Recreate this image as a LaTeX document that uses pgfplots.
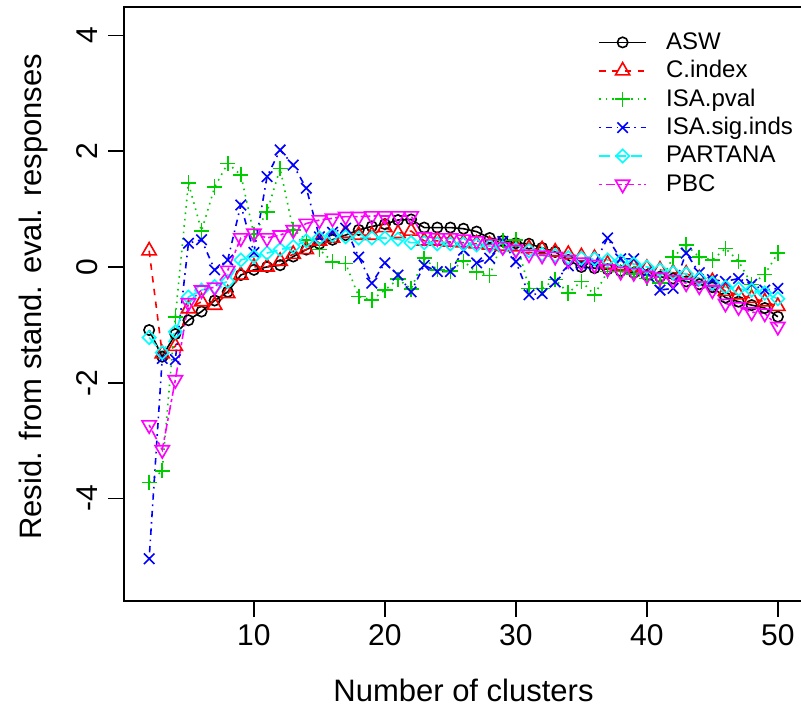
\documentclass[border=0pt]{standalone}
\usepackage{fontspec}
\setmainfont{Liberation Sans}
\usepackage{pgfplots}
\usepackage{pgfplotstable}
\pgfplotsset{compat=1.18}
\definecolor{rgreen}{HTML}{00CD00}
\definecolor{rred}{HTML}{FF0000}
\definecolor{rblue}{HTML}{0000FF}
\definecolor{rcyan}{HTML}{00FFFF}
\definecolor{rmagenta}{HTML}{FF00FF}
\pgfplotstableread{
x ASW Cidx ISApv ISAsig PART PBC
2 -1.09 0.28 -3.72 -5.04 -1.22 -2.73
3 -1.55 -1.50 -3.52 -1.58 -1.48 -3.16
4 -1.16 -1.37 -0.86 -1.60 -1.12 -1.95
5 -0.92 -0.72 1.45 0.41 -0.52 -0.62
6 -0.77 -0.60 0.62 0.47 -0.40 -0.40
7 -0.58 -0.66 1.38 -0.05 -0.34 -0.35
8 -0.43 -0.46 1.79 0.12 -0.25 -0.06
9 -0.14 -0.14 1.59 1.07 0.12 0.50
10 -0.05 0.00 0.56 0.25 0.18 0.58
11 0.00 0.00 0.95 1.56 0.24 0.50
12 0.03 0.10 1.70 2.02 0.30 0.55
13 0.18 0.22 0.64 1.76 0.35 0.64
14 0.30 0.30 0.47 1.36 0.45 0.75
15 0.40 0.45 0.30 0.52 0.50 0.81
16 0.47 0.50 0.09 0.60 0.55 0.84
17 0.55 0.58 0.06 0.67 0.52 0.87
18 0.64 0.55 -0.51 0.17 0.50 0.87
19 0.70 0.55 -0.57 -0.28 0.50 0.88
20 0.74 0.68 -0.40 0.07 0.50 0.88
21 0.81 0.58 -0.21 -0.14 0.48 0.88
22 0.82 0.62 -0.38 -0.43 0.42 0.88
23 0.68 0.45 0.15 0.03 0.42 0.52
24 0.68 0.45 -0.05 -0.08 0.40 0.50
25 0.68 0.43 -0.07 -0.08 0.40 0.50
26 0.66 0.42 0.10 0.29 0.40 0.48
27 0.61 0.40 -0.09 0.07 0.38 0.45
28 0.50 0.38 -0.15 0.15 0.36 0.40
29 0.45 0.36 0.46 0.44 0.33 0.35
30 0.41 0.35 0.47 0.09 0.30 0.30
31 0.40 0.32 -0.37 -0.48 0.28 0.22
32 0.33 0.30 -0.37 -0.46 0.22 0.20
33 0.26 0.26 -0.22 -0.26 0.20 0.18
34 0.12 0.22 -0.45 0.02 0.16 0.12
35 0.00 0.18 -0.25 0.05 0.15 0.08
36 -0.02 0.15 -0.48 0.05 0.14 0.04
37 -0.04 0.05 -0.08 0.50 0.12 -0.03
38 -0.07 0.02 -0.08 0.14 0.10 -0.08
39 -0.10 0.00 -0.12 0.14 0.05 -0.10
40 -0.14 -0.02 -0.20 -0.10 0.00 -0.15
41 -0.17 -0.05 -0.28 -0.40 -0.05 -0.18
42 -0.20 -0.10 0.17 -0.37 -0.10 -0.22
43 -0.25 -0.12 0.38 0.24 -0.12 -0.28
44 -0.30 -0.20 0.17 -0.10 -0.20 -0.33
45 -0.35 -0.25 0.12 -0.22 -0.28 -0.40
46 -0.53 -0.42 0.32 -0.25 -0.35 -0.63
47 -0.60 -0.48 0.10 -0.20 -0.38 -0.69
48 -0.66 -0.54 -0.30 -0.30 -0.40 -0.78
49 -0.71 -0.60 -0.13 -0.40 -0.45 -0.80
50 -0.86 -0.68 0.24 -0.37 -0.55 -1.03
}\data
\begin{document}
\begin{tikzpicture}
\begin{axis}[
  name=ax,
  scale only axis,
  width=339.5pt, height=297pt,
  xmin=0.08, xmax=51.92, ymin=-5.77, ymax=4.49,
  axis line style={line width=0.9pt},
  tick pos=left,
  tick align=outside,
  major tick length=8pt,
  tick style={line width=0.8pt, black},
  xtick={10,20,30,40,50},
  xticklabels={10,20,30,40,50},
  ytick={-4,-2,0,2,4},
  yticklabels={-4,-2,0,2,4},
  tick label style={font=\fontsize{15}{18}\selectfont},
  yticklabel style={rotate=90, anchor=south, yshift=1.5pt},
  xlabel={Number of clusters},
  ylabel={Resid. from stand. eval. responses},
  label style={font=\fontsize{15.5}{18}\selectfont},
  xlabel style={at={(axis description cs:0.5,-0.150)}, anchor=center},
  ylabel style={at={(axis description cs:-0.134,0.512)}, anchor=center, rotate=0},
  legend style={at={(axis description cs:0.698,0.965)}, anchor=north west,
    draw=none, fill=none, inner sep=0pt, row sep=0pt,
    font=\fontsize{12}{14}\selectfont,
    nodes={inner sep=0pt, minimum height=14.2pt, anchor=west}},
  legend cell align=left,
  legend image code/.code={%
    \path[draw=none] (0pt,0pt) -- (33.5pt,0pt);
    \draw[mark repeat=2,mark phase=2] plot coordinates {(0pt,0pt) (11.75pt,0pt) (23.5pt,0pt)};},
  every axis plot/.append style={line width=0.8pt},
]
\addplot[black, mark=o, mark size=2.6pt, mark options={solid}] table[x=x,y=ASW] {\data};
\addlegendentry{ASW}
\addplot[rred, dash pattern=on 3.2pt off 3.2pt, mark=triangle, mark size=4.1pt, mark options={solid}] table[x=x,y=Cidx] {\data};
\addlegendentry{C.index}
\addplot[rgreen, dash pattern=on 0.8pt off 2.4pt, mark=+, mark size=3.8pt, mark options={solid}] table[x=x,y=ISApv] {\data};
\addlegendentry{ISA.pval}
\addplot[rblue, dash pattern=on 0.8pt off 2.4pt on 3.2pt off 2.4pt, mark=x, mark size=3.7pt, mark options={solid}] table[x=x,y=ISAsig] {\data};
\addlegendentry{ISA.sig.inds}
\addplot[rcyan, dash pattern=on 5.6pt off 2.4pt, mark=square, mark size=2.35pt, mark options={solid, rotate=45}] table[x=x,y=PART] {\data};
\addlegendentry{PARTANA}
\addplot[rmagenta, dash pattern=on 1.6pt off 1.6pt on 4.8pt off 1.6pt, mark=triangle, mark size=4.1pt, mark options={solid, rotate=180}] table[x=x,y=PBC] {\data};
\addlegendentry{PBC}
\end{axis}
\pgfresetboundingbox
\path[use as bounding box] (ax.south west) ++(-62pt,-58pt) rectangle ++(400.5pt,358.5pt);
\end{tikzpicture}
\end{document}
